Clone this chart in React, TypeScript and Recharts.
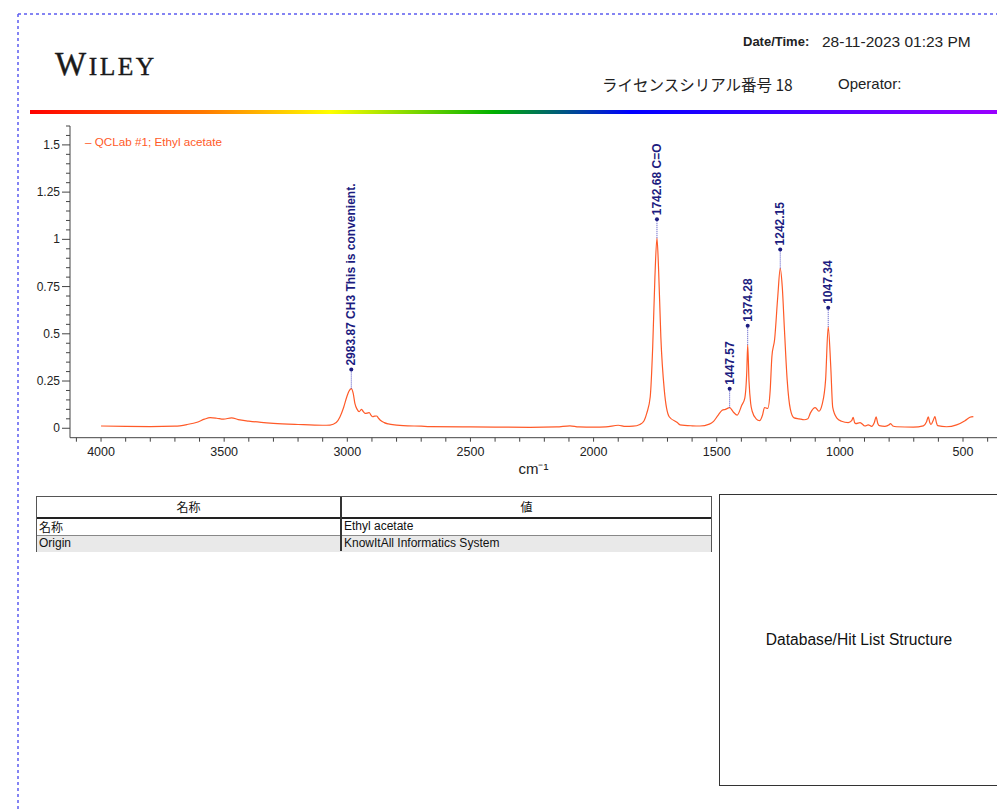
import React from "react";
import { ComposedChart, Line, Scatter, XAxis, YAxis } from "recharts";

// spectrum (cm-1 descending)
const wavenumbers = [
  4000, 3900, 3800, 3700, 3650, 3610, 3580, 3557, 3530, 3503, 3470, 3443, 3400,
  3350, 3300, 3200, 3100, 3070, 3045, 3030, 3015, 3002, 2994, 2983.87, 2976,
  2969, 2960, 2952, 2942, 2935, 2928, 2920, 2911, 2904, 2897, 2889, 2881, 2874,
  2867, 2850, 2834, 2800, 2773, 2700, 2664, 2500, 2400, 2258, 2150, 2096, 2060,
  2000, 1950, 1900, 1870, 1840, 1812, 1795, 1784, 1770, 1760, 1751, 1742.68,
  1736, 1727, 1713, 1693, 1660, 1649, 1600, 1568, 1530, 1514, 1494, 1478, 1465,
  1447.57, 1432, 1417, 1398, 1386, 1378, 1374.28, 1369, 1362, 1356, 1340, 1326,
  1314, 1306, 1293, 1283, 1276, 1265, 1252, 1242.15, 1234, 1225, 1214, 1201,
  1186, 1165, 1145, 1130, 1120, 1100, 1085, 1072, 1058, 1047.34, 1037, 1029,
  1013, 993, 966, 952, 946, 940, 935, 918, 898, 885, 871, 860, 853, 846, 840,
  817, 800, 794, 785, 770, 702, 661, 648, 641, 635, 630, 620, 614, 608, 603,
  567, 526, 492, 472, 458,
];
const absorbance = [
  0.012, 0.01, 0.009, 0.011, 0.02, 0.032, 0.048, 0.056, 0.053, 0.048, 0.055,
  0.046, 0.038, 0.031, 0.026, 0.02, 0.016, 0.017, 0.03, 0.06, 0.11, 0.167,
  0.195, 0.21, 0.185, 0.13, 0.1, 0.088, 0.1, 0.088, 0.079, 0.08, 0.083, 0.07,
  0.061, 0.064, 0.065, 0.054, 0.044, 0.03, 0.023, 0.017, 0.014, 0.011, 0.009,
  0.007, 0.006, 0.005, 0.007, 0.013, 0.007, 0.006, 0.007, 0.016, 0.01, 0.011,
  0.02, 0.04, 0.08, 0.167, 0.43, 0.8, 1.006, 0.838, 0.485, 0.203, 0.061, 0.03,
  0.018, 0.013, 0.012, 0.022, 0.035, 0.07, 0.095, 0.1, 0.109, 0.085, 0.07,
  0.123, 0.16, 0.3, 0.442, 0.25, 0.13, 0.09, 0.05, 0.04, 0.07, 0.11, 0.105,
  0.2, 0.38, 0.47, 0.7, 0.846, 0.75, 0.52, 0.256, 0.1, 0.055, 0.05, 0.045,
  0.05, 0.08, 0.109, 0.09, 0.126, 0.256, 0.537, 0.326, 0.11, 0.055, 0.037,
  0.03, 0.04, 0.058, 0.03, 0.025, 0.03, 0.012, 0.018, 0.01, 0.03, 0.06, 0.025,
  0.014, 0.01, 0.018, 0.025, 0.012, 0.008, 0.006, 0.013, 0.035, 0.06, 0.03,
  0.02, 0.045, 0.062, 0.03, 0.014, 0.008, 0.018, 0.04, 0.058, 0.062,
];

const peakWavenumbers = [2983.87, 1742.68, 1447.57, 1374.28, 1242.15, 1047.34];
const peakAbsorbance = [0.21, 1.006, 0.109, 0.442, 0.846, 0.537];
const peakLabels = [
  "2983.87 CH3 This is convenient.",
  "1742.68 C=O",
  "1447.57",
  "1374.28",
  "1242.15",
  "1047.34",
];

const xLabelTicks = [4000, 3500, 3000, 2500, 2000, 1500, 1000, 500];
const yLabelTicks = [0, 0.25, 0.5, 0.75, 1, 1.25, 1.5];

const tableHeaders = ["名称", "値"];
const tableRows = [
  ["名称", "Ethyl acetate"],
  ["Origin", "KnowItAll Informatics System"],
];

const spectrum = wavenumbers.map((wn, i) => ({ wn, a: absorbance[i] }));
const peaks = peakWavenumbers.map((wn, i) => ({
  wn,
  a: peakAbsorbance[i],
  label: peakLabels[i],
}));

// minor ticks every 100 cm-1 / 0.05
const xTicks: number[] = [];
for (let v = 4100; v >= 400; v -= 100) xTicks.push(v);
const yTicks: number[] = [];
for (let i = 0; i <= 32; i++) yTicks.push(Math.round(i * 5) / 100);

const SANS = "'Liberation Sans', Arial, sans-serif";
const CJK = "'Noto Sans CJK JP', sans-serif";
const LINE = "#ff5a28";
const NAVY = "#1c1c80";

function XTick(props: any) {
  const { x, y, payload } = props;
  const v = payload.value;
  return (
    <g>
      <line x1={x} x2={x} y1={y} y2={y + 4} stroke="#444" />
      {xLabelTicks.includes(v) && (
        <text x={x} y={y + 14} textAnchor="middle" dominantBaseline="central" fontSize={12.5} fill="#222" fontFamily={SANS}>
          {v}
        </text>
      )}
    </g>
  );
}

function YTick(props: any) {
  const { x, y, payload } = props;
  const v = payload.value;
  const major = yLabelTicks.some((t) => Math.abs(t - v) < 1e-6);
  return (
    <g>
      <line x1={x - (major ? 8 : 4)} x2={x} y1={y} y2={y} stroke="#444" />
      {major && (
        <text x={x - 10} y={y} textAnchor="end" dominantBaseline="central" fontSize={12} fill="#222" fontFamily={SANS}>
          {String(v)}
        </text>
      )}
    </g>
  );
}

function PeakMarker(props: any) {
  const { cx, cy, payload } = props;
  const dotY = cy - 19;
  return (
    <g>
      <line x1={cx} x2={cx} y1={cy} y2={dotY} stroke="#4a4ac0" strokeDasharray="1 1" />
      <circle cx={cx} cy={dotY} r={2} fill={NAVY} />
      <text
        x={cx}
        y={dotY - 4}
        transform={`rotate(-90 ${cx} ${dotY - 4})`}
        dominantBaseline="central"
        fontSize={12}
        fontWeight="bold"
        fill={NAVY}
        fontFamily={SANS}
      >
        {payload.label}
      </text>
    </g>
  );
}

function Header() {
  return (
    <svg width={997} height={809} style={{ position: "absolute", left: 0, top: 0 }}>
      <defs>
        <linearGradient id="rainbow" x1="0" y1="0" x2="1" y2="0">
          <stop offset="0%" stopColor="#ff0000" />
          <stop offset="18%" stopColor="#ff7a00" />
          <stop offset="31%" stopColor="#ffff00" />
          <stop offset="48%" stopColor="#00b000" />
          <stop offset="62%" stopColor="#0000ff" />
          <stop offset="100%" stopColor="#9a00ff" />
        </linearGradient>
      </defs>
      <line x1={18} x2={997} y1={14} y2={14} stroke="#5c5cf0" strokeWidth={1.5} strokeDasharray="3 3" />
      <line x1={18} x2={18} y1={14} y2={809} stroke="#5c5cf0" strokeWidth={1.5} strokeDasharray="3 3" />
      <text x={55} y={75} fill="#1a1a1a" fontFamily="'Liberation Serif', serif" letterSpacing={2.5} stroke="#1a1a1a" strokeWidth={0.4}>
        <tspan fontSize={33}>W</tspan>
        <tspan fontSize={25.5}>ILEY</tspan>
      </text>
      <text x={743} y={41} dominantBaseline="central" fontSize={13} fontWeight="bold" fill="#222" fontFamily={SANS}>
        Date/Time:
      </text>
      <text x={822} y={41} dominantBaseline="central" fontSize={15.5} fill="#222" fontFamily={SANS}>
        28-11-2023 01:23 PM
      </text>
      <text x={602} y={84} dominantBaseline="central" fontSize={15.5} fill="#222" fontFamily={CJK}>
        ライセンスシリアル番号 18
      </text>
      <text x={838} y={83} dominantBaseline="central" fontSize={15} fill="#222" fontFamily={SANS}>
        Operator:
      </text>
      <rect x={30} y={110} width={967} height={4} fill="url(#rainbow)" />
      <text x={85} y={141} dominantBaseline="central" fontSize={11.7} fill={LINE} fontFamily={SANS}>
        – QCLab #1; Ethyl acetate
      </text>
    </svg>
  );
}

function InfoTable() {
  const cell: React.CSSProperties = {
    position: "absolute",
    fontSize: 12,
    lineHeight: "17px",
    whiteSpace: "nowrap",
  };
  return (
    <div
      style={{
        position: "absolute",
        left: 36,
        top: 496,
        width: 676,
        height: 56,
        boxSizing: "border-box",
        border: "1px solid #555",
        fontFamily: SANS,
        color: "#111",
      }}
    >
      <div style={{ position: "absolute", left: 0, top: 0, width: 674, height: 20, borderBottom: "2px solid #222" }}>
        <div style={{ ...cell, left: 0, width: 303, textAlign: "center", top: 1, fontFamily: CJK }}>
          {tableHeaders[0]}
        </div>
        <div style={{ ...cell, left: 305, width: 369, textAlign: "center", top: 1, fontFamily: CJK }}>
          {tableHeaders[1]}
        </div>
      </div>
      {tableRows.map((row, i) => (
        <div
          key={i}
          style={{
            position: "absolute",
            left: 0,
            top: 22 + i * 17,
            width: 674,
            height: 16,
            borderBottom: i === 0 ? "1px solid #888" : "none",
            background: i === 1 ? "#e9e9e9" : "#fff",
          }}
        >
          <div style={{ ...cell, left: 2, top: -1, fontFamily: i === 0 ? CJK : SANS }}>{row[0]}</div>
          <div style={{ ...cell, left: 307, top: -1 }}>{row[1]}</div>
        </div>
      ))}
      <div style={{ position: "absolute", left: 303, top: 0, width: 2, height: 54, background: "#333" }} />
    </div>
  );
}

export default function App() {
  return (
    <div
      style={{
        position: "absolute",
        left: 0,
        top: 0,
        width: 997,
        height: 809,
        overflow: "hidden",
        background: "#fff",
        fontFamily: SANS,
      }}
    >
      <Header />
      <div style={{ position: "absolute", left: 0, top: 0 }}>
        <ComposedChart
          width={997}
          height={490}
          data={spectrum}
          margin={{ top: 126, right: 0, left: 20, bottom: 12.3 }}
        >
          <XAxis
            type="number"
            dataKey="wn"
            domain={[362, 4126]}
            allowDataOverflow
            reversed
            ticks={xTicks}
            interval={0}
            tickSize={0}
            tickMargin={0}
            tick={<XTick />}
            height={40}
            stroke="#444"
            label={{ value: "cm⁻¹", position: "insideBottom", offset: 4, fontSize: 15, fill: "#222", fontFamily: SANS }}
          />
          <YAxis
            type="number"
            domain={[-0.05, 1.6]}
            allowDataOverflow
            ticks={yTicks}
            interval={0}
            tickSize={0}
            tickMargin={0}
            tick={<YTick />}
            width={50}
            stroke="#444"
          />
          <Line
            type="monotone"
            dataKey="a"
            stroke={LINE}
            strokeWidth={1.2}
            dot={false}
            isAnimationActive={false}
          />
          <Scatter data={peaks} dataKey="a" shape={<PeakMarker />} isAnimationActive={false} />
        </ComposedChart>
      </div>
      <InfoTable />
      <div
        style={{
          position: "absolute",
          left: 719,
          top: 494,
          width: 280,
          height: 292,
          boxSizing: "border-box",
          border: "1px solid #333",
          display: "flex",
          alignItems: "center",
          justifyContent: "center",
          fontSize: 15.6,
          color: "#111",
        }}
      >
        Database/Hit List Structure
      </div>
    </div>
  );
}
